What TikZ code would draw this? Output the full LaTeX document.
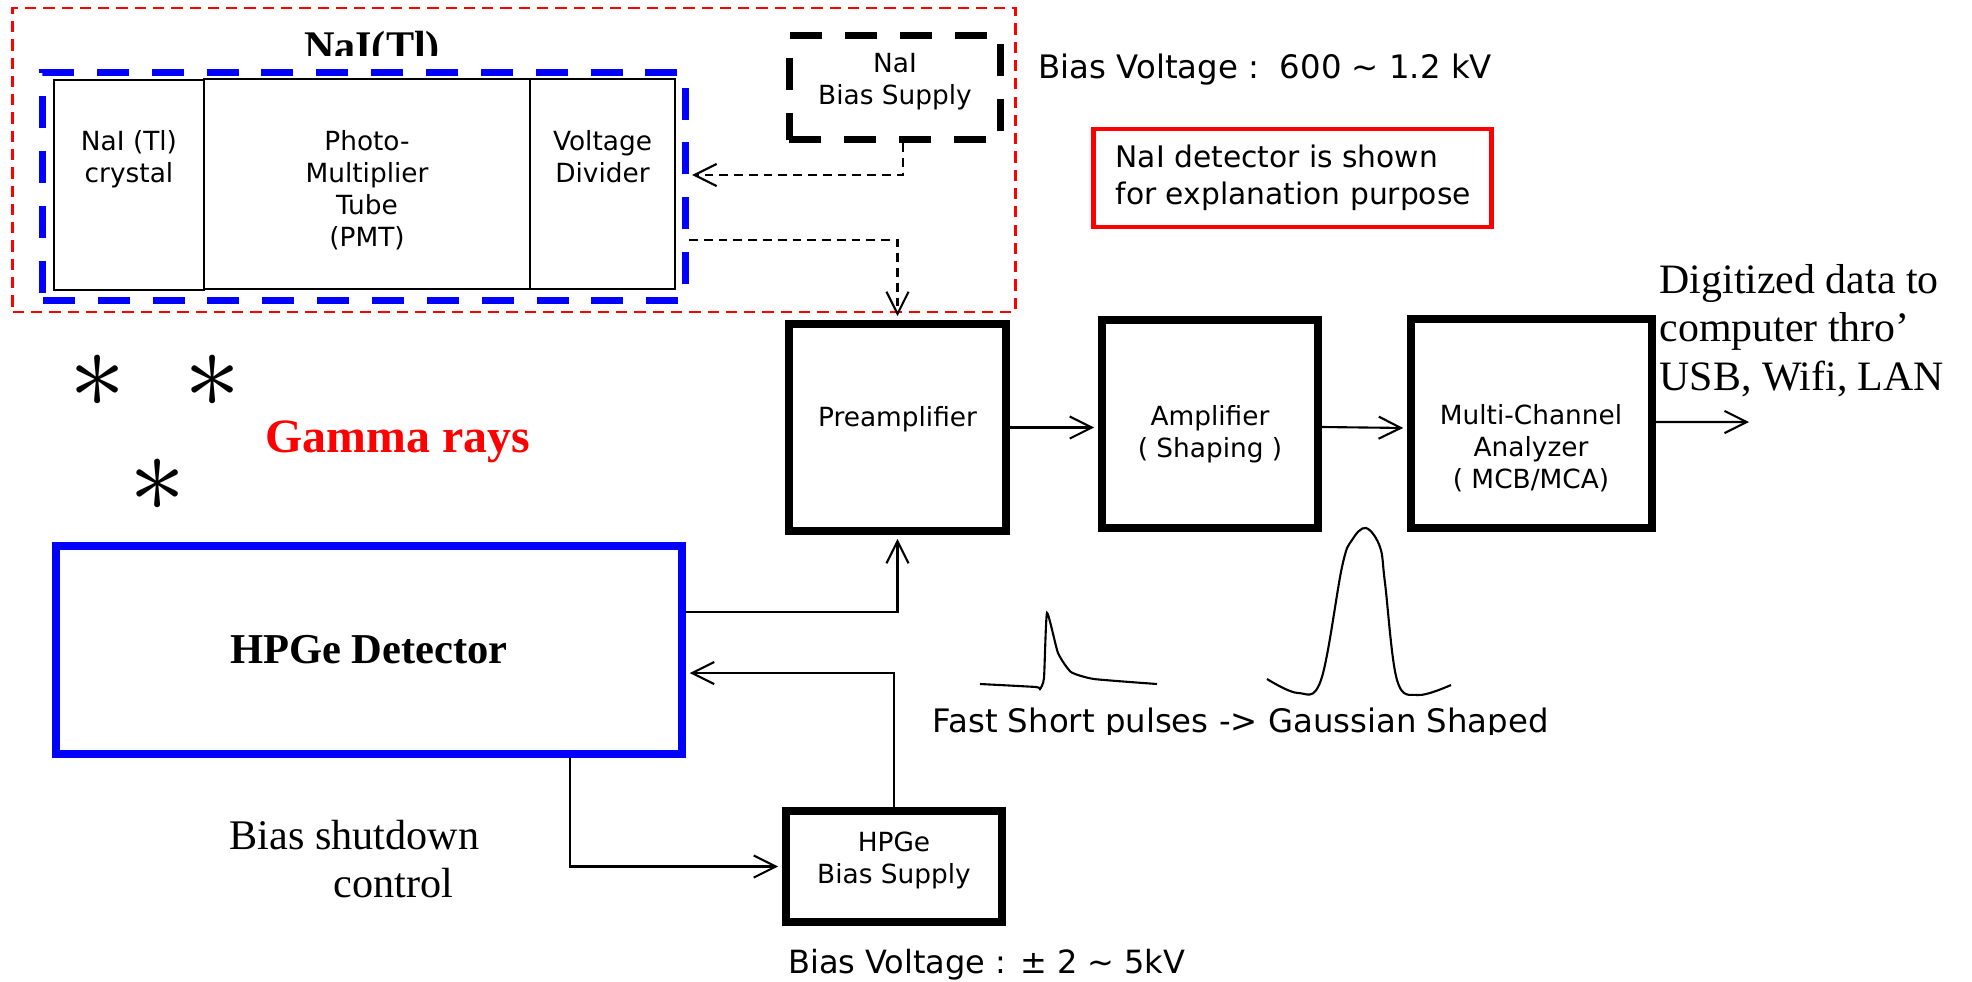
\RequirePackage{fix-cm}
\documentclass[tikz,border=0pt]{standalone}
\usepackage{fontspec}
\setmainfont{Liberation Serif}
\newfontfamily\dejavu{DejaVu Sans}
\usetikzlibrary{arrows.meta}
\newcommand\mlc[1]{\begin{tabular}[t]{@{}c@{}}#1\end{tabular}}
\newcommand\mll[1]{\begin{tabular}[t]{@{}l@{}}#1\end{tabular}}
\definecolor{pureblue}{RGB}{0,0,255}
\definecolor{purered}{RGB}{255,0,0}
\begin{document}
\begin{tikzpicture}[x=0.01cm,y=-0.01cm,
  thickbox/.style={draw, line width=2.2pt, inner sep=0pt},
  thinbox/.style={draw, line width=0.6pt, inner sep=0pt},
  dashbox/.style={draw, line width=2pt, inner sep=0pt, dash pattern=on 9.1pt off 6.5pt},
  boxtxt/.style={font=\dejavu\fontsize{7.5}{9.1}\selectfont, inner sep=0pt, anchor=base},
  sanstxt/.style={font=\dejavu\fontsize{9.1}{11}\selectfont, inner sep=0pt, anchor=base west},
  serif/.style={font=\fontsize{12}{13.8}\selectfont, inner sep=0pt, anchor=base west},
  arr/.style={line width=0.6pt, shorten >=1.1pt, -{Straight Barb[length=6.3pt,width=6.3pt,line width=0.6pt]}},
  dasharr/.style={arr, dash pattern=on 2.5pt off 1.7pt},
  gstar/.style={font=\fontsize{32}{32}\selectfont, inner sep=0pt}
]
\useasboundingbox (0,0) rectangle (1972,981);

% ---------- NaI part ----------
\node[draw=purered, line width=0.7pt, dash pattern=on 3.2pt off 2pt, inner sep=0pt,
      minimum width=10.02cm, minimum height=3.04cm] (naiframe) at (514,160) {};
\begin{scope}
  \clip (280,0) rectangle (470,55);
  \node[font=\bfseries\fontsize{12}{14}\selectfont, inner sep=0pt, anchor=base] (title) at (372,60) {NaI(Tl)};
\end{scope}
\node[dashbox, draw=pureblue, minimum width=6.42cm, minimum height=2.275cm] (blueframe) at (364,186.25) {};
\node[thinbox, minimum width=1.50cm, minimum height=2.10cm] (crystal) at (129,185) {};
\node[thinbox, minimum width=3.26cm, minimum height=2.10cm] (pmt) at (367,184) {};
\node[thinbox, minimum width=1.45cm, minimum height=2.10cm] (vd) at (602.5,184) {};
\node[boxtxt] (crystalL) at (129,150.5) {\mlc{NaI (Tl)\\crystal}};
\node[boxtxt] (pmtL) at (367,150.5) {\mlc{Photo-\\Multiplier\\Tube\\(PMT)}};
\node[boxtxt] (vdL) at (602.5,150.5) {\mlc{Voltage\\Divider}};

\node[dashbox, minimum width=2.11cm, minimum height=1.04cm] (naibias) at (895,87.5) {};
\node[boxtxt] (naibiasL) at (895,72) {\mlc{NaI\\Bias Supply}};

\node[sanstxt, font=\dejavu\fontsize{9.2}{11}\selectfont] (biasNaI) at (1038,78) {Bias Voltage :\ \ 600 \textasciitilde{} 1.2 kV};

\node[draw=purered, line width=1.4pt, inner sep=0pt, minimum width=3.97cm, minimum height=0.98cm] (note) at (1292.5,178) {};
\node[font=\dejavu\fontsize{8.45}{10.5}\selectfont, inner sep=0pt, anchor=base west] (noteL) at (1115,167.5)
  {\mll{NaI detector is shown\\for explanation purpose}};

% ---------- chain ----------
\node[thickbox, minimum width=2.17cm, minimum height=2.07cm] (preamp) at (897.5,427.5) {};
\node[boxtxt] (preampL) at (897.5,426.7) {Preamplifier};
\node[thickbox, minimum width=2.16cm, minimum height=2.08cm] (amp) at (1210,424) {};
\node[boxtxt] (ampL) at (1210,425) {\mlc{Amplifier\\( Shaping )}};
\node[thickbox, minimum width=2.41cm, minimum height=2.09cm] (mca) at (1531.5,423.5) {};
\node[boxtxt, font=\dejavu\fontsize{7.5}{9.2}\selectfont] (mcaL) at (1531,424) {\mlc{Multi-Channel\\Analyzer\\( MCB/MCA)}};
\coordinate (out) at (1749,422);

\node[font=\fontsize{11.9}{13.8}\selectfont, inner sep=0pt, anchor=base west] (digL) at (1659,293)
  {\mll{Digitized data to\\computer thro’\\USB, Wifi, LAN}};

% ---------- HPGe ----------
\node[gstar] (s1) at (98,381) {$\ast$};
\node[gstar] (s2) at (213,381) {$\ast$};
\node[gstar] (s3) at (158,485) {$\ast$};
\node[font=\bfseries\fontsize{13.6}{15}\selectfont, text=purered, inner sep=0pt, anchor=base west] (gamma) at (265,452) {Gamma rays};

\node[draw=pureblue, line width=2.1pt, inner sep=0pt, minimum width=6.26cm, minimum height=2.08cm] (hpge) at (369,650) {};
\node[font=\bfseries\fontsize{12.1}{14}\selectfont, inner sep=0pt, anchor=base] (hpgeL) at (369,663) {HPGe Detector};

\node[thickbox, minimum width=2.16cm, minimum height=1.11cm] (hpgebias) at (894,866.5) {};
\node[boxtxt] (hpgebiasL) at (894,851) {\mlc{HPGe\\Bias Supply}};

\node[serif] (bsd1) at (229,849) {Bias shutdown};
\node[serif] (bsd2) at (333,897) {control};
\node[sanstxt] (biasHPGe) at (787.5,973) {Bias Voltage : ± 2 \textasciitilde{} 5kV};

% ---------- pulses ----------
\draw[line width=0.6pt] plot[smooth, tension=0.3] coordinates
  {(980,684) (1036,687) (1040,689) (1044,678) (1047,613) (1058,653) (1071,672) (1094,679) (1157,684)};
\draw[line width=0.6pt] plot[smooth, tension=0.6] coordinates
  {(1267,679) (1298,693) (1321,680) (1342,567) (1352,540) (1366,528) (1380,547) (1385,583) (1397,680) (1418,695) (1451,685)};
\begin{scope}
  \clip (900,690) rectangle (1600,734);
  \node[sanstxt, font=\dejavu\fontsize{9.2}{11}\selectfont] (pulseL) at (932,732) {Fast Short pulses -> Gaussian Shaped};
\end{scope}

% ---------- connectors ----------
\draw[dasharr, shorten >=0pt] ([xshift=0.08cm]naibias.south) |- ([xshift=0.16cm,yshift=0.09cm]vd.east);
\draw[dasharr] ([xshift=0.13cm,yshift=-0.56cm]vd.east) -| (preamp.north);
\draw[arr] ([yshift=0.38cm]hpge.east) -| (preamp.south);
\draw[arr] (hpgebias.north) |- ([yshift=-0.23cm]hpge.east);
\draw[arr] ([xshift=2.01cm]hpge.south) |- (hpgebias.west);
\draw[arr] (preamp.east) -- (preamp.east -| amp.west);
\draw[arr] ([yshift=-0.03cm]amp.east) -- ([yshift=-0.045cm]mca.west);
\draw[arr, shorten >=0pt] ([yshift=0.015cm]mca.east) -- (out);
\end{tikzpicture}
\end{document}
